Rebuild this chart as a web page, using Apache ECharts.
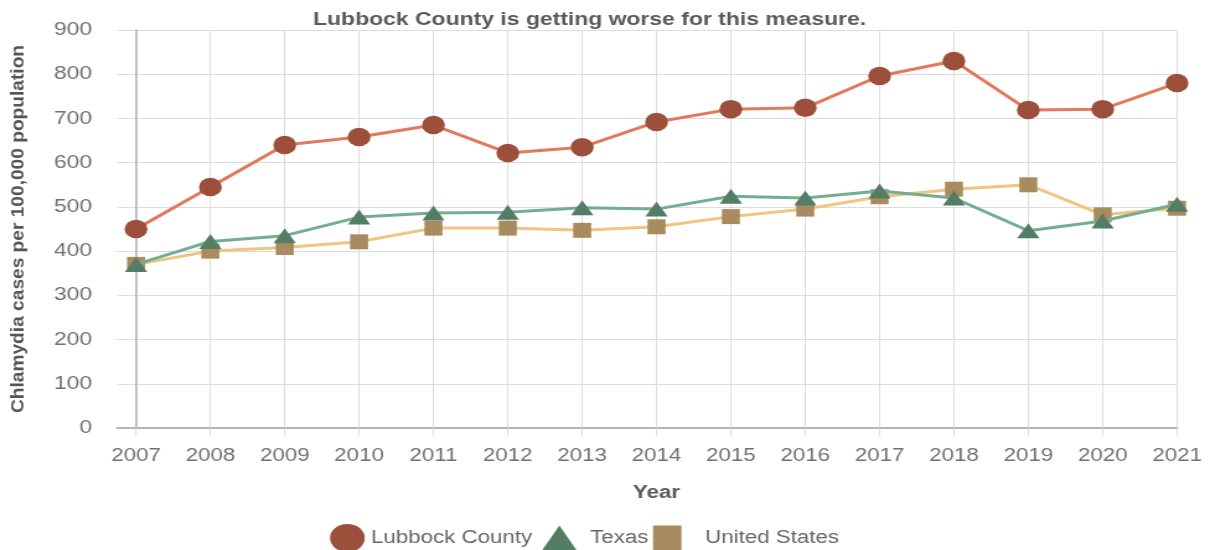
<!DOCTYPE html>
<html>
<head>
<meta charset="utf-8">
<title>Chlamydia cases per 100,000 population</title>
<script src="https://cdn.jsdelivr.net/npm/echarts@6/dist/echarts.min.js"></script>
<style>
  html, body { margin: 0; padding: 0; background: #ffffff; overflow: hidden; }
  /* The chart is laid out on a narrower canvas and widened to the page width. */
  #chart { width: 976px; height: 550px; transform: scaleX(1.23975); transform-origin: 0 0; }
</style>
</head>
<body>
<div id="chart"></div>
<script>
// Reporting years
const years = ['2007', '2008', '2009', '2010', '2011', '2012', '2013', '2014',
               '2015', '2016', '2017', '2018', '2019', '2020', '2021'];

// Chlamydia cases per 100,000 population
const lubbock      = [450, 545, 640, 658, 685, 622, 635, 692, 721, 724, 796, 830, 719, 721, 780];
const texas        = [370, 422, 435, 477, 486, 488, 498, 495, 524, 520, 536, 520, 446, 468, 506];
const unitedStates = [370, 400, 408, 421, 452, 452, 447, 455, 478, 495, 523, 540, 550, 482, 497];

const FONT = '"Liberation Sans", Arial, Helvetica, sans-serif';

const COLORS = {
  lubbock: { line: '#e3785a', mark: '#9c503c' },
  texas:   { line: '#72ae8f', mark: '#547d65' },
  us:      { line: '#f1c47f', mark: '#a88b5e' }
};

const chart = echarts.init(document.getElementById('chart'), null, { renderer: 'canvas' });

const legendBase = {
  orient: 'horizontal',
  padding: 0,
  selectedMode: false,
  itemStyle: { borderWidth: 0 },
  textStyle: { fontSize: 18, color: '#666666', fontFamily: FONT }
};

chart.setOption({
  animation: false,
  textStyle: { fontFamily: FONT },
  title: {
    text: 'Lubbock County is getting worse for this measure.',
    left: 252.5,
    top: 10,
    padding: 0,
    textStyle: { fontSize: 18.5, fontWeight: 'bold', color: '#5a5a5a', fontFamily: FONT }
  },
  graphic: [{
    type: 'text',
    x: 15,
    y: 229,
    rotation: Math.PI / 2,
    scaleX: 1.367,
    style: {
      text: 'Chlamydia cases per 100,000 population',
      fill: '#555555',
      font: 'bold 14px ' + FONT,
      align: 'center',
      verticalAlign: 'middle',
      textAlign: 'center',
      textVerticalAlign: 'middle'
    }
  }],
  legend: [
    Object.assign({}, legendBase, {
      left: 266.2,
      top: 524,
      itemWidth: 28,
      itemHeight: 28,
      data: [{ name: 'Lubbock County', icon: 'circle', itemStyle: { color: COLORS.lubbock.mark } }]
    }),
    Object.assign({}, legendBase, {
      left: 437.2,
      top: 525.5,
      itemWidth: 28,
      itemHeight: 25,
      textStyle: Object.assign({}, legendBase.textStyle, { padding: [0, 0, 0, 5.7] }),
      data: [{ name: 'Texas', icon: 'triangle', itemStyle: { color: COLORS.texas.mark } }]
    }),
    Object.assign({}, legendBase, {
      left: 526.7,
      top: 525.5,
      itemWidth: 23,
      itemHeight: 25,
      textStyle: Object.assign({}, legendBase.textStyle, { padding: [0, 0, 0, 14] }),
      data: [{ name: 'United States', icon: 'rect', itemStyle: { color: COLORS.us.mark } }]
    })
  ],
  grid: [
    // background grid: horizontal guide lines and the value labels
    { left: 94.4, right: 26.6, top: 30, bottom: 122, containLabel: false },
    // plotting grid: one column per year
    { left: 109.7, right: 26.6, top: 30, bottom: 122, containLabel: false }
  ],
  xAxis: [
    {
      gridIndex: 0,
      type: 'value',
      min: 0,
      max: 1,
      axisLine: { show: true, lineStyle: { color: '#b5b5b5', width: 2 } },
      axisTick: { show: false },
      axisLabel: { show: false },
      splitLine: { show: false }
    },
    {
      gridIndex: 1,
      type: 'category',
      data: years,
      boundaryGap: false,
      axisLine: { show: false },
      axisTick: { show: true, length: 8, interval: 0, lineStyle: { color: '#dcdcdc' } },
      axisLabel: { interval: 0, fontSize: 18, color: '#707070', margin: 19, fontFamily: FONT },
      splitLine: { show: true, interval: 0, lineStyle: { color: '#dcdcdc', width: 1 } },
      name: 'Year',
      nameLocation: 'middle',
      nameGap: 56,
      nameTextStyle: { fontSize: 18, fontWeight: 'bold', color: '#5a5a5a', fontFamily: FONT }
    }
  ],
  yAxis: [
    {
      gridIndex: 0,
      type: 'value',
      min: 0,
      max: 900,
      interval: 100,
      axisLine: { show: false },
      axisTick: { show: false },
      axisLabel: { fontSize: 18.5, color: '#707070', margin: 20, fontFamily: FONT },
      splitLine: { show: true, lineStyle: { color: '#dcdcdc', width: 1 } }
    },
    {
      gridIndex: 1,
      type: 'value',
      min: 0,
      max: 900,
      interval: 100,
      axisLine: { show: true, lineStyle: { color: '#b5b5b5', width: 1.6 } },
      axisTick: { show: false },
      axisLabel: { show: false },
      splitLine: { show: false }
    }
  ],
  series: [
    {
      name: 'Lubbock County',
      type: 'line',
      xAxisIndex: 1,
      yAxisIndex: 1,
      data: lubbock,
      symbol: 'circle',
      symbolSize: 18.5,
      lineStyle: { color: COLORS.lubbock.line, width: 3 },
      itemStyle: { color: COLORS.lubbock.mark },
      z: 3
    },
    {
      name: 'United States',
      type: 'line',
      xAxisIndex: 1,
      yAxisIndex: 1,
      data: unitedStates,
      symbol: 'rect',
      symbolSize: [14.5, 15],
      lineStyle: { color: COLORS.us.line, width: 3 },
      itemStyle: { color: COLORS.us.mark },
      z: 3
    },
    {
      name: 'Texas',
      type: 'line',
      xAxisIndex: 1,
      yAxisIndex: 1,
      data: texas,
      symbol: 'triangle',
      symbolSize: [18, 15],
      lineStyle: { color: COLORS.texas.line, width: 3 },
      itemStyle: { color: COLORS.texas.mark },
      z: 4
    }
  ]
});
</script>
</body>
</html>
